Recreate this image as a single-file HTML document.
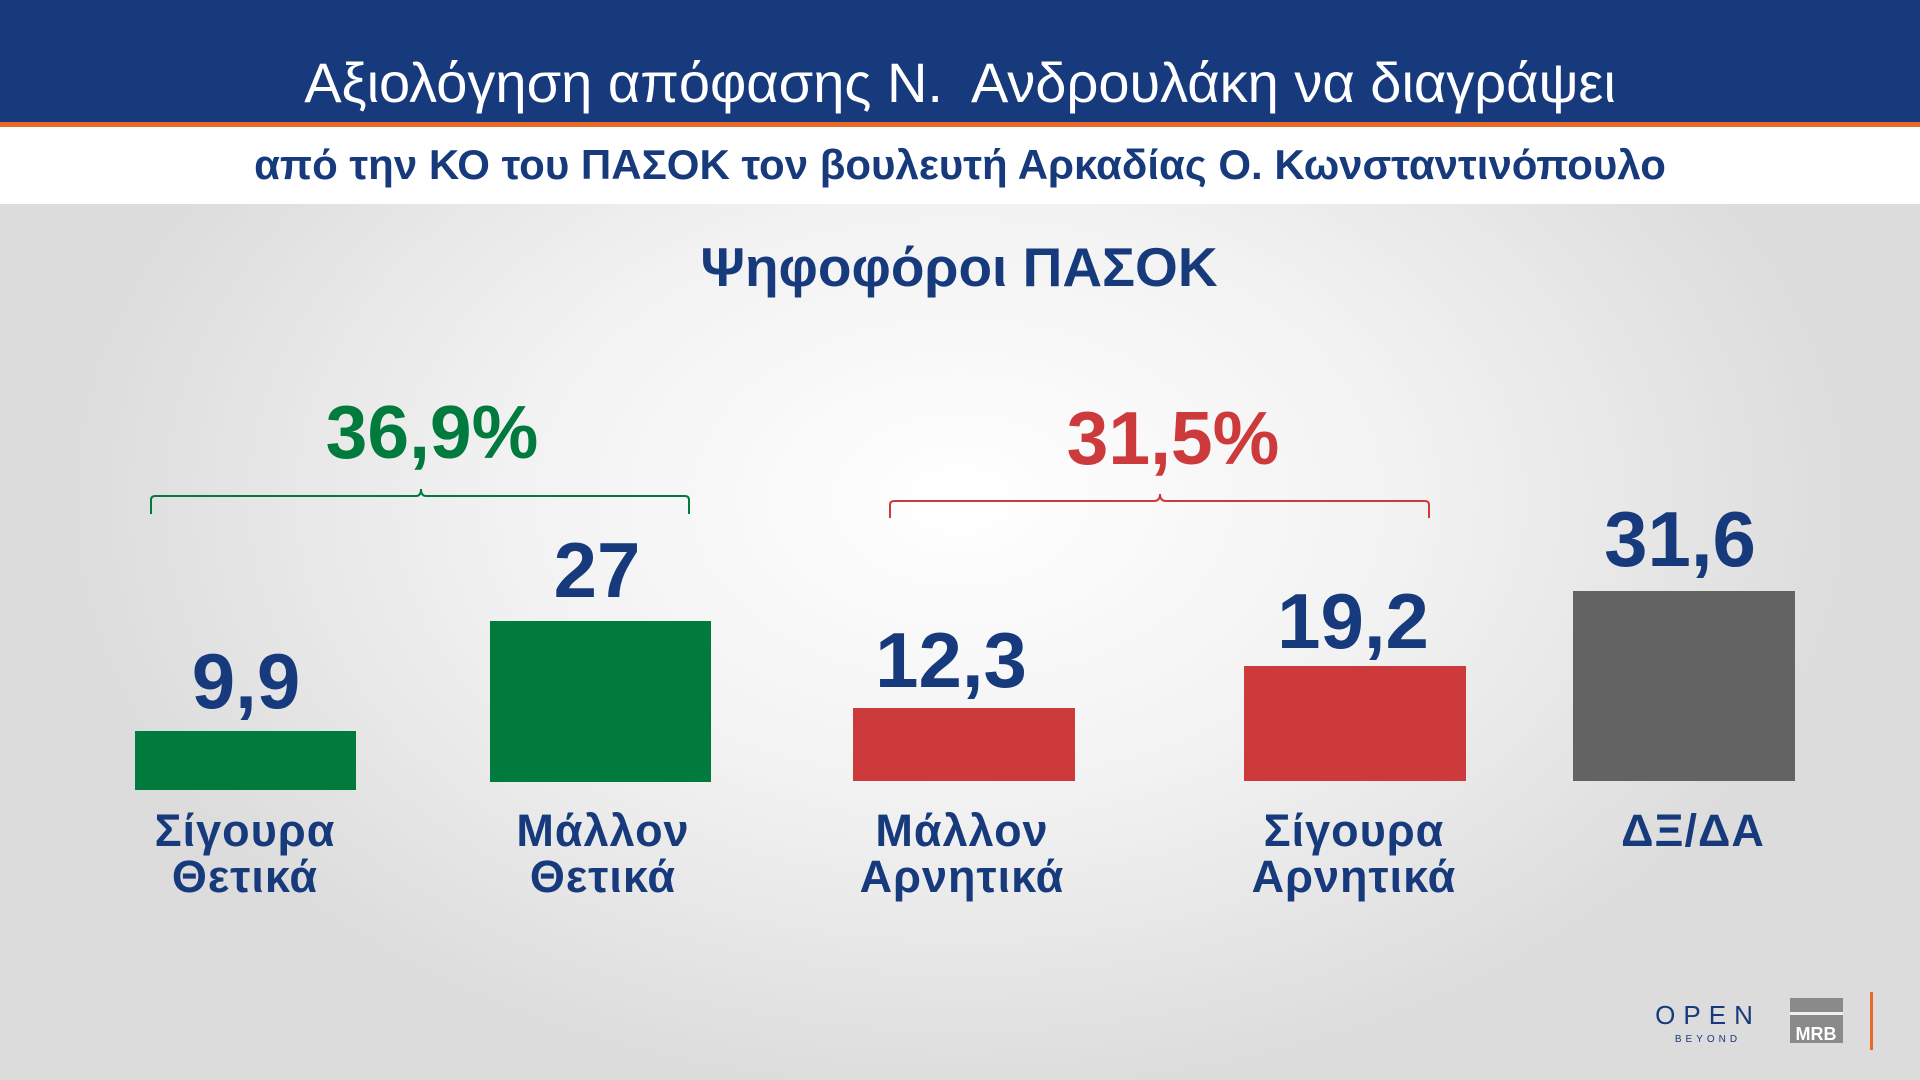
<!DOCTYPE html>
<html><head><meta charset="utf-8"><style>
*{margin:0;padding:0;box-sizing:border-box}
body{width:1920px;height:1080px;overflow:hidden;position:relative;font-family:"Liberation Sans","DejaVu Sans",sans-serif;
background:radial-gradient(ellipse 900px 600px at 960px 500px,#ffffff 0%,#f2f2f2 50%,#dcdcdc 100%);}
.a{position:absolute}
.hdr{left:0;top:0;width:1920px;height:122px;background:#173a7c}
.or{left:0;top:122px;width:1920px;height:5px;background:#e8692a}
.wb{left:0;top:127px;width:1920px;height:77px;background:#fff}
.c{text-align:center;transform:translateX(-50%)}
.t{color:#fff;font-size:56px;top:50px;left:960px;white-space:nowrap}
.st{color:#173a7c;font-weight:bold;font-size:42px;top:141px;left:960px;white-space:nowrap}
.h{color:#173a7c;font-weight:bold;font-size:55px;top:235px;left:959px;white-space:nowrap}
.pct{font-weight:bold;font-size:75px;white-space:nowrap}
.bar{position:absolute}
.v{color:#173a7c;font-weight:bold;font-size:78px;white-space:nowrap}
.l{color:#173a7c;font-weight:bold;font-size:45px;line-height:46px;white-space:nowrap;top:808px;letter-spacing:1px}
</style></head><body>
<div class="a hdr"></div><div class="a or"></div><div class="a wb"></div>
<div class="a c t">Αξιολόγηση απόφασης Ν.&nbsp; Ανδρουλάκη να διαγράψει</div>
<div class="a c st">από την ΚΟ του ΠΑΣΟΚ τον βουλευτή Αρκαδίας Ο. Κωνσταντινόπουλο</div>
<div class="a c h">Ψηφοφόροι ΠΑΣΟΚ</div>
<div class="a c pct" style="left:432px;top:389px;color:#007a3d">36,9%</div>
<div class="a c pct" style="left:1173px;top:395px;color:#cc3a3b">31,5%</div>
<svg class="a" style="left:0;top:0" width="1920" height="1080">
<path d="M151 514 V500 Q151 496 155 496 H416 Q421 496 421 489 Q421 496 426 496 H685 Q689 496 689 500 V514" fill="none" stroke="#007a3d" stroke-width="2"/>
<path d="M890 518 V505 Q890 501 894 501 H1154 Q1160 501 1160 494 Q1160 501 1166 501 H1425 Q1429 501 1429 505 V518" fill="none" stroke="#cc3a3b" stroke-width="2"/>
<text x="1708" y="1024" font-family="Liberation Sans" font-size="26" fill="#173a7c" text-anchor="middle" letter-spacing="8">OPEN</text>
<text x="1708" y="1042" font-family="Liberation Sans" font-size="10" fill="#173a7c" text-anchor="middle" letter-spacing="4">BEYOND</text>
<rect x="1790" y="998" width="53" height="45" fill="#8a8a8a"/>
<rect x="1790" y="1012" width="53" height="3" fill="#eee"/>
<text x="1816" y="1040" font-family="Liberation Sans" font-weight="bold" font-size="18" fill="#fff" text-anchor="middle">MRB</text>
<rect x="1870" y="992" width="3" height="58" fill="#e8692a"/>
</svg>
<div class="bar" style="left:135px;top:731px;width:221px;height:59px;background:#007a3d"></div>
<div class="bar" style="left:490px;top:621px;width:221px;height:161px;background:#007a3d"></div>
<div class="bar" style="left:853px;top:708px;width:222px;height:73px;background:#cc3a3b"></div>
<div class="bar" style="left:1244px;top:666px;width:222px;height:115px;background:#cc3a3b"></div>
<div class="bar" style="left:1573px;top:591px;width:222px;height:190px;background:#636363"></div>
<div class="a c v" style="left:246px;top:636px">9,9</div>
<div class="a c v" style="left:597px;top:525px">27</div>
<div class="a c v" style="left:951px;top:615px">12,3</div>
<div class="a c v" style="left:1353px;top:576px">19,2</div>
<div class="a c v" style="left:1680px;top:494px">31,6</div>
<div class="a c l" style="left:245px">Σίγουρα<br>Θετικά</div>
<div class="a c l" style="left:603px">Μάλλον<br>Θετικά</div>
<div class="a c l" style="left:962px">Μάλλον<br>Αρνητικά</div>
<div class="a c l" style="left:1354px">Σίγουρα<br>Αρνητικά</div>
<div class="a c l" style="left:1693px">ΔΞ/ΔΑ</div>
</body></html>
